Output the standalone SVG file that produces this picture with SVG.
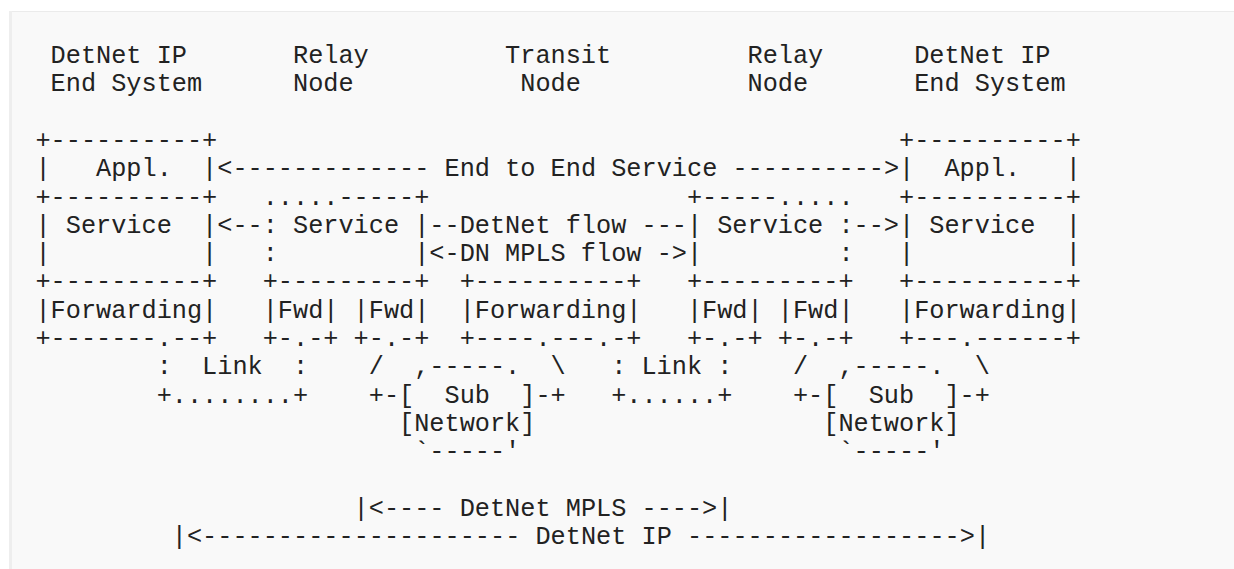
<svg xmlns="http://www.w3.org/2000/svg" width="1234" height="569" viewBox="0 0 1234 569">
<style>
text { font-family: "Liberation Mono", "DejaVu Sans Mono", monospace; font-size: 25.25px; fill: #222222; white-space: pre; }
</style>
<rect x="0" y="0" width="1234" height="569" fill="#ffffff"/>
<rect x="9.5" y="11.5" width="1230" height="565" fill="#f9f9f9" stroke="#ebebeb" stroke-width="1"/>
<line x1="10.5" y1="11" x2="10.5" y2="569" stroke="#eeeeee" stroke-width="3"/>
<g id="labels">
<text x="50.6" y="63">DetNet IP</text>
<text x="293.0" y="63">Relay</text>
<text x="505.1" y="63">Transit</text>
<text x="747.5" y="63">Relay</text>
<text x="914.15" y="63">DetNet IP</text>
<text x="50.6" y="91.3">End System</text>
<text x="293.0" y="91.3">Node</text>
<text x="520.25" y="91.3">Node</text>
<text x="747.5" y="91.3">Node</text>
<text x="914.15" y="91.3">End System</text>
</g>
<g id="end-system-left">
<text x="35.45" y="147.9" xml:space="preserve">+----------+</text>
<text x="35.45" y="176.2" xml:space="preserve">|   Appl.  |</text>
<text x="35.45" y="204.5" xml:space="preserve">+----------+</text>
<text x="35.45" y="232.8" xml:space="preserve">| Service  |</text>
<text x="35.45" y="261.1" xml:space="preserve">|          |</text>
<text x="35.45" y="289.4" xml:space="preserve">+----------+</text>
<text x="35.45" y="317.7" xml:space="preserve">|Forwarding|</text>
<text x="35.45" y="346" xml:space="preserve">+-------.--+</text>
</g>
<g id="relay-left">
<text x="262.7" y="204.5" xml:space="preserve">.....-----+</text>
<text x="262.7" y="232.8" xml:space="preserve">: Service |</text>
<text x="262.7" y="261.1" xml:space="preserve">:         |</text>
<text x="262.7" y="289.4" xml:space="preserve">+---------+</text>
<text x="262.7" y="317.7" xml:space="preserve">|Fwd| |Fwd|</text>
<text x="262.7" y="346" xml:space="preserve">+-.-+ +-.-+</text>
</g>
<g id="transit">
<text x="459.65" y="289.4" xml:space="preserve">+----------+</text>
<text x="459.65" y="317.7" xml:space="preserve">|Forwarding|</text>
<text x="459.65" y="346" xml:space="preserve">+----.---.-+</text>
</g>
<g id="relay-right">
<text x="686.9" y="204.5" xml:space="preserve">+-----.....</text>
<text x="686.9" y="232.8" xml:space="preserve">| Service :</text>
<text x="686.9" y="261.1" xml:space="preserve">|         :</text>
<text x="686.9" y="289.4" xml:space="preserve">+---------+</text>
<text x="686.9" y="317.7" xml:space="preserve">|Fwd| |Fwd|</text>
<text x="686.9" y="346" xml:space="preserve">+-.-+ +-.-+</text>
</g>
<g id="end-system-right">
<text x="899.0" y="147.9" xml:space="preserve">+----------+</text>
<text x="899.0" y="176.2" xml:space="preserve">|  Appl.   |</text>
<text x="899.0" y="204.5" xml:space="preserve">+----------+</text>
<text x="899.0" y="232.8" xml:space="preserve">| Service  |</text>
<text x="899.0" y="261.1" xml:space="preserve">|          |</text>
<text x="899.0" y="289.4" xml:space="preserve">+----------+</text>
<text x="899.0" y="317.7" xml:space="preserve">|Forwarding|</text>
<text x="899.0" y="346" xml:space="preserve">+---.------+</text>
</g>
<g id="subnet-left">
<text x="368.75" y="374.3" xml:space="preserve">/  ,-----.  \</text>
<text x="368.75" y="402.6" xml:space="preserve">+-[  Sub  ]-+</text>
<text x="399.05" y="430.9" xml:space="preserve">[Network]</text>
<text x="414.2" y="459.2" xml:space="preserve">`-----'</text>
</g>
<g id="subnet-right">
<text x="792.95" y="374.3" xml:space="preserve">/  ,-----.  \</text>
<text x="792.95" y="402.6" xml:space="preserve">+-[  Sub  ]-+</text>
<text x="823.25" y="430.9" xml:space="preserve">[Network]</text>
<text x="838.4" y="459.2" xml:space="preserve">`-----'</text>
</g>
<g id="connectors">
<text x="217.25" y="176.2" xml:space="preserve">&lt;------------- End to End Service ----------&gt;</text>
<text x="217.25" y="232.8" xml:space="preserve">&lt;--</text>
<text x="429.35" y="232.8" xml:space="preserve">--DetNet flow ---</text>
<text x="853.55" y="232.8" xml:space="preserve">--&gt;</text>
<text x="429.35" y="261.1" xml:space="preserve">&lt;-DN MPLS flow -&gt;</text>
<text x="156.65" y="374.3" xml:space="preserve">:  Link  :</text>
<text x="156.65" y="402.6" xml:space="preserve">+........+</text>
<text x="611.15" y="374.3" xml:space="preserve">: Link :</text>
<text x="611.15" y="402.6" xml:space="preserve">+......+</text>
<text x="353.6" y="515.8" xml:space="preserve">|&lt;---- DetNet MPLS ----&gt;|</text>
<text x="171.8" y="544.1" xml:space="preserve">|&lt;--------------------- DetNet IP ------------------&gt;|</text>
</g>
</svg>
